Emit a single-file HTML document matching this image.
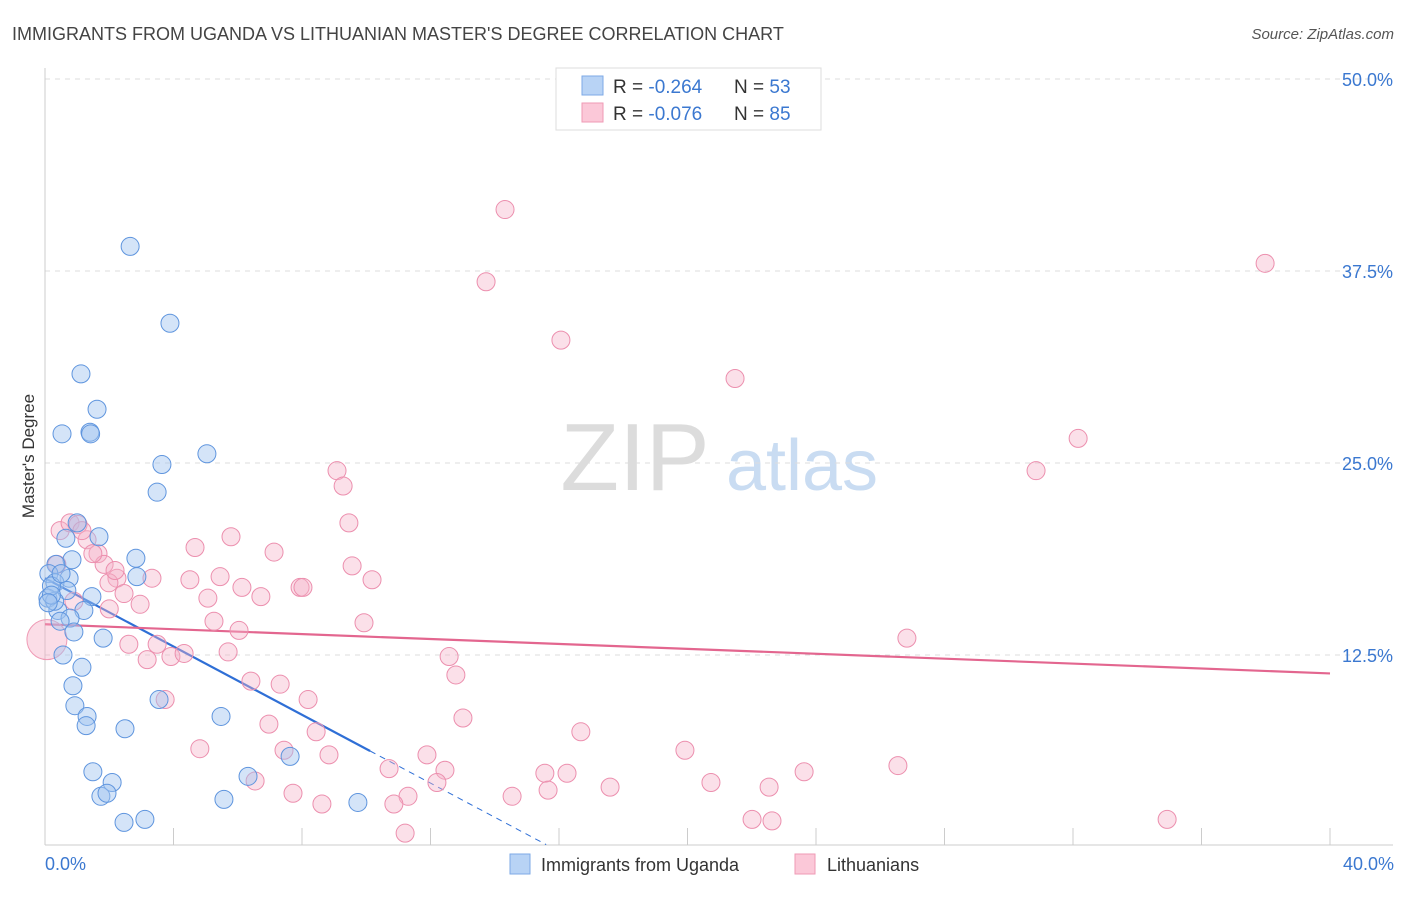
<!DOCTYPE html>
<html><head><meta charset="utf-8">
<style>
body{margin:0;background:#fff;font-family:"Liberation Sans",sans-serif;}
svg text{font-family:"Liberation Sans",sans-serif;}
</style></head>
<body>
<svg id="chart" width="1406" height="892" viewBox="0 0 1406 892" xmlns="http://www.w3.org/2000/svg">
<text x="12" y="40" font-size="18" fill="#444">IMMIGRANTS FROM UGANDA VS LITHUANIAN MASTER'S DEGREE CORRELATION CHART</text>
<text x="1394" y="39" font-size="15" fill="#555" text-anchor="end" font-style="italic">Source: ZipAtlas.com</text>
<g>
<text x="635" y="490" font-size="96" fill="#dcdcdc" text-anchor="middle" font-family="Liberation Serif, serif">ZIP</text>
<text x="802" y="490" font-size="72" fill="#c9dcf2" text-anchor="middle">atlas</text>
</g>
<g id="grid"></g>
<g id="axes"></g>
<g id="trend"></g>
<g id="points"></g>
<text transform="translate(34,456) rotate(-90)" font-size="17" fill="#333" text-anchor="middle">Master's Degree</text>
<text x="45" y="870" font-size="18" fill="#3b78d0">0.0%</text>
<text x="1394" y="870" font-size="18" fill="#3b78d0" text-anchor="end">40.0%</text>
<g>
<rect x="556" y="68" width="265" height="62" fill="#fff" stroke="#ddd"/>
<rect x="582" y="76" width="21" height="19" fill="#b8d3f5" stroke="#7eaae6"/>
<rect x="582" y="103" width="21" height="19" fill="#fbc8d8" stroke="#ef9ab5"/>
<text x="613" y="93" font-size="19" fill="#333">R = <tspan fill="#3b78d0">-0.264</tspan><tspan x="734">N = </tspan><tspan fill="#3b78d0">53</tspan></text>
<text x="613" y="120" font-size="19" fill="#333">R = <tspan fill="#3b78d0">-0.076</tspan><tspan x="734">N = </tspan><tspan fill="#3b78d0">85</tspan></text>
</g>
<g>
<rect x="510" y="854" width="20" height="20" fill="#b8d3f5" stroke="#7eaae6"/>
<text x="541" y="871" font-size="18" fill="#333">Immigrants from Uganda</text>
<rect x="795" y="854" width="20" height="20" fill="#fbc8d8" stroke="#ef9ab5"/>
<text x="827" y="871" font-size="18" fill="#333">Lithuanians</text>
</g>
</svg>
<script>
const yTicks=[12.5,25,37.5,50];
const yTickLabels=["12.5%","25.0%","37.5%","50.0%"];
const xTicks=[4,8,12,16,20,24,28,32,36,40];
const blueX=[2.65,3.89,1.12,1.62,0.53,1.40,5.04,3.64,3.49,1.00,1.68,0.65,0.84,0.34,2.83,0.12,0.75,2.86,0.31,0.68,0.09,1.46,0.40,1.21,0.78,0.47,1.81,0.56,1.15,0.87,3.55,0.93,1.31,1.28,5.48,2.49,1.49,2.09,6.32,7.63,1.74,1.93,5.57,9.74,2.46,3.11,0.3,0.2,0.5,0.2,0.9,1.42,0.1];
const blueY=[39.1,34.1,30.8,28.5,26.9,27.0,25.6,24.9,23.1,21.1,20.2,20.1,18.7,18.4,18.8,17.8,17.5,17.6,17.2,16.7,16.2,16.3,15.4,15.4,14.9,14.7,13.6,12.5,11.7,10.5,9.6,9.2,8.5,7.9,8.5,7.7,4.9,4.2,4.6,5.9,3.3,3.5,3.1,2.9,1.6,1.8,16.0,17.0,17.8,16.4,14.0,26.9,15.9];
const pinkX=[14.32,13.73,16.06,21.48,37.98,32.16,30.85,9.09,9.28,9.46,5.79,4.67,7.13,9.56,10.18,6.13,7.94,8.03,6.72,5.45,4.51,3.33,2.24,1.99,2.46,2.96,5.07,5.26,6.04,9.93,26.83,2.61,3.49,3.18,3.92,4.33,5.70,12.58,12.79,6.41,7.32,8.19,3.74,13.01,6.97,8.44,16.68,19.92,4.82,7.44,8.84,11.89,10.71,12.45,15.56,16.25,23.63,26.55,20.73,12.20,6.54,15.66,17.59,22.54,7.72,11.30,14.54,8.62,10.86,11.21,22.01,22.63,34.93,0.47,0.78,1.03,1.31,1.65,1.84,2.18,1.49,0.37,1.15,0.9,2.0];
const pinkY=[41.5,36.8,33.0,30.5,38.0,26.6,24.5,24.5,23.5,21.1,20.2,19.5,19.2,18.3,17.4,16.9,16.9,16.9,16.3,17.6,17.4,17.5,17.5,17.2,16.5,15.8,16.2,14.7,14.1,14.6,13.6,13.2,13.2,12.2,12.4,12.6,12.7,12.4,11.2,10.8,10.6,9.6,9.6,8.4,8.0,7.5,7.5,6.3,6.4,6.3,6.0,6.0,5.1,5.0,4.8,4.8,4.9,5.3,4.2,4.2,4.3,3.7,3.9,3.9,3.5,3.3,3.3,2.8,2.8,0.9,1.8,1.7,1.8,20.6,21.1,21.0,20.0,19.1,18.4,18.0,19.1,18.4,20.6,16.0,15.5];
const bigPink=[0.06,13.5];
const blueTrend=[0,17.5,10.12,6.25,15.6];
const pinkTrend=[0,14.5,40,11.3];

const NS="http://www.w3.org/2000/svg";
const X0=45,X1=1330,Y0=847,PY=15.36;
function sx(v){return X0+v*(X1-X0)/40;}
function sy(v){return Y0-v*PY;}
function mk(tag,attrs,parent){const e=document.createElementNS(NS,tag);for(const k in attrs)e.setAttribute(k,attrs[k]);parent.appendChild(e);return e;}
const grid=document.getElementById('grid'),axes=document.getElementById('axes'),trend=document.getElementById('trend'),pts=document.getElementById('points');
yTicks.forEach((t,i)=>{
  const l=mk('line',{x1:45,x2:1393,y1:sy(t),y2:sy(t),stroke:'#ddd','stroke-dasharray':'5,5'},grid);
  
  
  const tx=mk('text',{x:1393,y:sy(t)+7,'font-size':18,fill:'#3b78d0','text-anchor':'end'},grid);
  tx.textContent=yTickLabels[i];
  
  
});
let a=mk('line',{x1:45,x2:45,y1:68,y2:845,stroke:'#ccc'},axes);


a=mk('line',{x1:45,x2:1393,y1:845,y2:845,stroke:'#ccc'},axes);


xTicks.forEach(t=>{
  const l=mk('line',{x1:sx(t),x2:sx(t),y1:828,y2:845,stroke:'#ccc'},axes);
  
  
});
let t1=mk('line',{x1:sx(blueTrend[0]),y1:sy(blueTrend[1]),x2:sx(blueTrend[2]),y2:sy(blueTrend[3]),stroke:'#2f6fd6','stroke-width':2.2},trend);


const slope=(blueTrend[3]-blueTrend[1])/(blueTrend[2]-blueTrend[0]);
let t2=mk('line',{x1:sx(blueTrend[2]),y1:sy(blueTrend[3]),x2:sx(blueTrend[4]),y2:sy(blueTrend[1]+slope*blueTrend[4]),stroke:'#2f6fd6','stroke-width':1,'stroke-dasharray':'6,5'},trend);


let t3=mk('line',{x1:sx(pinkTrend[0]),y1:sy(pinkTrend[1]),x2:sx(pinkTrend[2]),y2:sy(pinkTrend[3]),stroke:'#e3668f','stroke-width':2.2},trend);


let bp=mk('circle',{cx:sx(bigPink[0]),cy:sy(bigPink[1]),r:20,fill:'rgba(244,170,195,0.4)',stroke:'#ef9ab5'},pts);


pinkX.forEach((x,i)=>{
  const c=mk('circle',{cx:sx(x),cy:sy(pinkY[i]),r:9,fill:'rgba(246,178,200,0.4)',stroke:'#ec8fae','stroke-width':1},pts);
  
  
});
blueX.forEach((x,i)=>{
  const c=mk('circle',{cx:sx(x),cy:sy(blueY[i]),r:9,fill:'rgba(160,196,240,0.45)',stroke:'#5f95de','stroke-width':1},pts);
  
  
});
</script>
</body></html>
